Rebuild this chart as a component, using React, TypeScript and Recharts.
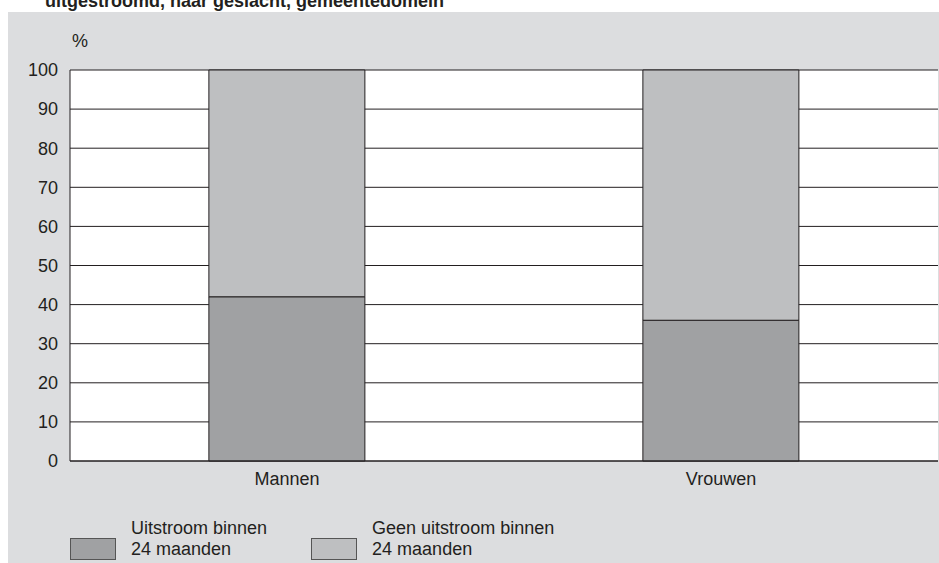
import { BarChart, Bar, XAxis, YAxis, CartesianGrid } from 'recharts';

const categories = ['Mannen', 'Vrouwen'];
const uitstroom = [42, 36];
const geenUitstroom = [58, 64];
const yTicks = [0, 10, 20, 30, 40, 50, 60, 70, 80, 90, 100];

const SERIES = [
  { key: 'uitstroom', lines: ['Uitstroom binnen', '24 maanden'], color: '#a0a1a3' },
  { key: 'geen', lines: ['Geen uitstroom binnen', '24 maanden'], color: '#bebfc1' },
];

const FONT = '"Liberation Sans", Arial, sans-serif';
const TEXT = '#231f20';

const data = categories.map((c, i) => ({
  name: c,
  uitstroom: uitstroom[i],
  geen: geenUitstroom[i],
}));

// legenda: blokje + twee regels tekst
function LegendBlock() {
  return (
    <div
      style={{
        position: 'absolute',
        left: 70,
        top: 518,
        display: 'flex',
        fontFamily: FONT,
        fontSize: 18,
        color: TEXT,
      }}
    >
      {SERIES.map((s, i) => (
        <div key={s.key} style={{ display: 'flex', alignItems: 'flex-end', marginRight: i === 0 ? 44 : 0 }}>
          <div
            style={{
              width: 46,
              height: 22,
              background: s.color,
              border: '1px solid #555',
              boxSizing: 'border-box',
              marginRight: 15,
              marginBottom: 0,
            }}
          />
          <div style={{ lineHeight: '21px' }}>
            {s.lines.map((l) => (
              <div key={l}>{l}</div>
            ))}
          </div>
        </div>
      ))}
    </div>
  );
}

export default function App() {
  return (
    <div style={{ position: 'absolute', left: 0, top: 0, width: 939, height: 563, background: '#fff', overflow: 'hidden' }}>
      <div
        style={{
          position: 'absolute',
          left: 8,
          top: 12,
          width: 931,
          height: 551,
          background: '#dcdddf',
        }}
      />
      <div
        style={{
          position: 'absolute',
          left: 45,
          top: -9,
          fontFamily: FONT,
          fontWeight: 'bold',
          fontSize: 18,
          color: TEXT,
          whiteSpace: 'nowrap',
        }}
      >
        uitgestroomd, naar geslacht, gemeentedomein
      </div>
      <div
        style={{
          position: 'absolute',
          left: 72,
          top: 31,
          fontFamily: FONT,
          fontSize: 18,
          color: TEXT,
        }}
      >
        %
      </div>
      <div style={{ position: 'absolute', left: 0, top: 0 }}>
        <BarChart
          width={939}
          height={563}
          data={data}
          margin={{ top: 70, right: 1, left: 10, bottom: 72 }}
          barCategoryGap="32%"
        >
          <CartesianGrid
            vertical={false}
            stroke="#231f20"
            strokeOpacity={1}
            fill="#ffffff"
            fillOpacity={1}
            yAxisId="l"
          />
          <XAxis
            dataKey="name"
            height={30}
            tickSize={0}
            tickMargin={11}
            axisLine={{ stroke: '#231f20' }}
            tick={{ fill: TEXT, fontSize: 18, fontFamily: FONT }}
          />
          <YAxis
            yAxisId="l"
            width={60}
            domain={[0, 100]}
            ticks={yTicks}
            tickSize={0}
            tickMargin={12}
            axisLine={{ stroke: '#231f20' }}
            tick={{ fill: TEXT, fontSize: 18, fontFamily: FONT }}
          />
          <YAxis
            yAxisId="r"
            orientation="right"
            width={0}
            domain={[0, 100]}
            tick={false}
            tickLine={false}
            axisLine={{ stroke: '#231f20' }}
          />
          {SERIES.map((s) => (
            <Bar
              key={s.key}
              yAxisId="l"
              dataKey={s.key}
              stackId="a"
              fill={s.color}
              stroke="#231f20"
              strokeWidth={1}
              isAnimationActive={false}
            />
          ))}
        </BarChart>
      </div>
      <LegendBlock />
    </div>
  );
}
